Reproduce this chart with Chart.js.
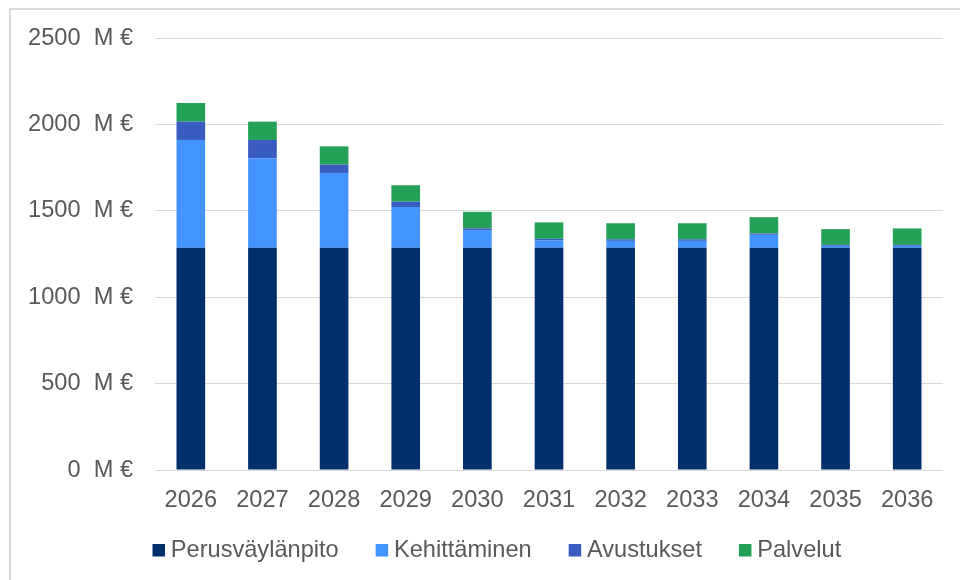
<!DOCTYPE html>
<html>
<head>
<meta charset="utf-8">
<script src="https://cdn.jsdelivr.net/npm/chart.js@4"></script>
<style>
  html, body { margin: 0; padding: 0; background: #ffffff; }
  #wrap { position: relative; width: 960px; height: 580px; overflow: hidden; background: #fff; }
  #frame { position: absolute; left: 9px; top: 8px; width: 1000px; height: 700px; border: 2px solid #d9d9d9; box-sizing: border-box; }
  #c { position: absolute; left: 0; top: 0; }
</style>
</head>
<body>
<div id="wrap">
  <div id="frame"></div>
  <canvas id="c" width="960" height="580"></canvas>
</div>
<script>
const years = ['2026','2027','2028','2029','2030','2031','2032','2033','2034','2035','2036'];
const perusvaylanpito = [1286, 1286, 1286, 1286, 1286, 1286, 1286, 1286, 1286, 1286, 1286];
const kehittaminen    = [624, 518, 433, 236, 102, 42, 40, 40, 75, 11, 11];
const avustukset      = [106, 106, 48, 31, 10, 10, 9, 9, 8, 6, 6];
const palvelut        = [108, 106, 106, 95, 96, 95, 93, 93, 94, 91, 95];
const yTicks = [0, 500, 1000, 1500, 2000, 2500];

const FONT = 'Arial, "Liberation Sans", sans-serif';
const FS = 23.6;
const TEXT = '#595959';

// place the legend row like the reference (centred slightly right of canvas centre)
const legendPlace = {
  id: 'legendPlace',
  afterLayout(chart) {
    const lg = chart.legend;
    if (lg) {
      lg.left = 57;
      lg.right = 942.7;
      lg.top = 495.5;
      lg.bottom = lg.top + lg.height;
    }
  }
};

new Chart(document.getElementById('c'), {
  type: 'bar',
  data: {
    labels: years,
    datasets: [
      { label: 'Perusväylänpito', data: perusvaylanpito, backgroundColor: '#002f6c' },
      { label: 'Kehittäminen', data: kehittaminen, backgroundColor: '#4394ff' },
      { label: 'Avustukset', data: avustukset, backgroundColor: '#3a5bc0' },
      { label: 'Palvelut', data: palvelut, backgroundColor: '#22a157' }
    ]
  },
  options: {
    responsive: false,
    animation: false,
    layout: { padding: { left: 15, right: 17, top: 38, bottom: 0 } },
    datasets: { bar: { barPercentage: 0.4, categoryPercentage: 1.0, borderWidth: 0 } },
    scales: {
      x: {
        stacked: true,
        grid: { display: false, drawTicks: false },
        border: { display: false },
        ticks: { color: TEXT, font: { family: FONT, size: FS }, padding: 16, maxRotation: 0 },
        afterFit: (s) => { s.height = 40; }
      },
      y: {
        stacked: true,
        min: yTicks[0],
        max: yTicks[yTicks.length - 1],
        afterBuildTicks: (s) => { s.ticks = yTicks.map(v => ({ value: v })); },
        grid: { color: '#d9d9d9', lineWidth: 1, drawTicks: false },
        border: { display: false },
        ticks: {
          color: TEXT, font: { family: FONT, size: FS }, padding: 22,
          callback: (v) => v + '  M €'
        },
        afterFit: (s) => { s.width = 140; }
      }
    },
    plugins: {
      legend: {
        position: 'bottom',
        maxHeight: 70,
        labels: {
          color: TEXT, font: { family: FONT, size: FS },
          boxWidth: 0.5, boxHeight: 0.5, padding: 43,
          generateLabels: (chart) => {
            const items = Chart.defaults.plugins.legend.labels.generateLabels(chart);
            items.forEach(it => {
              it.strokeStyle = it.fillStyle;
              it.lineWidth = 12;
              it.lineJoin = 'miter';
              it.lineCap = 'butt';
            });
            return items;
          }
        }
      },
      tooltip: { enabled: false }
    }
  },
  plugins: [legendPlace]
});
</script>
</body>
</html>
